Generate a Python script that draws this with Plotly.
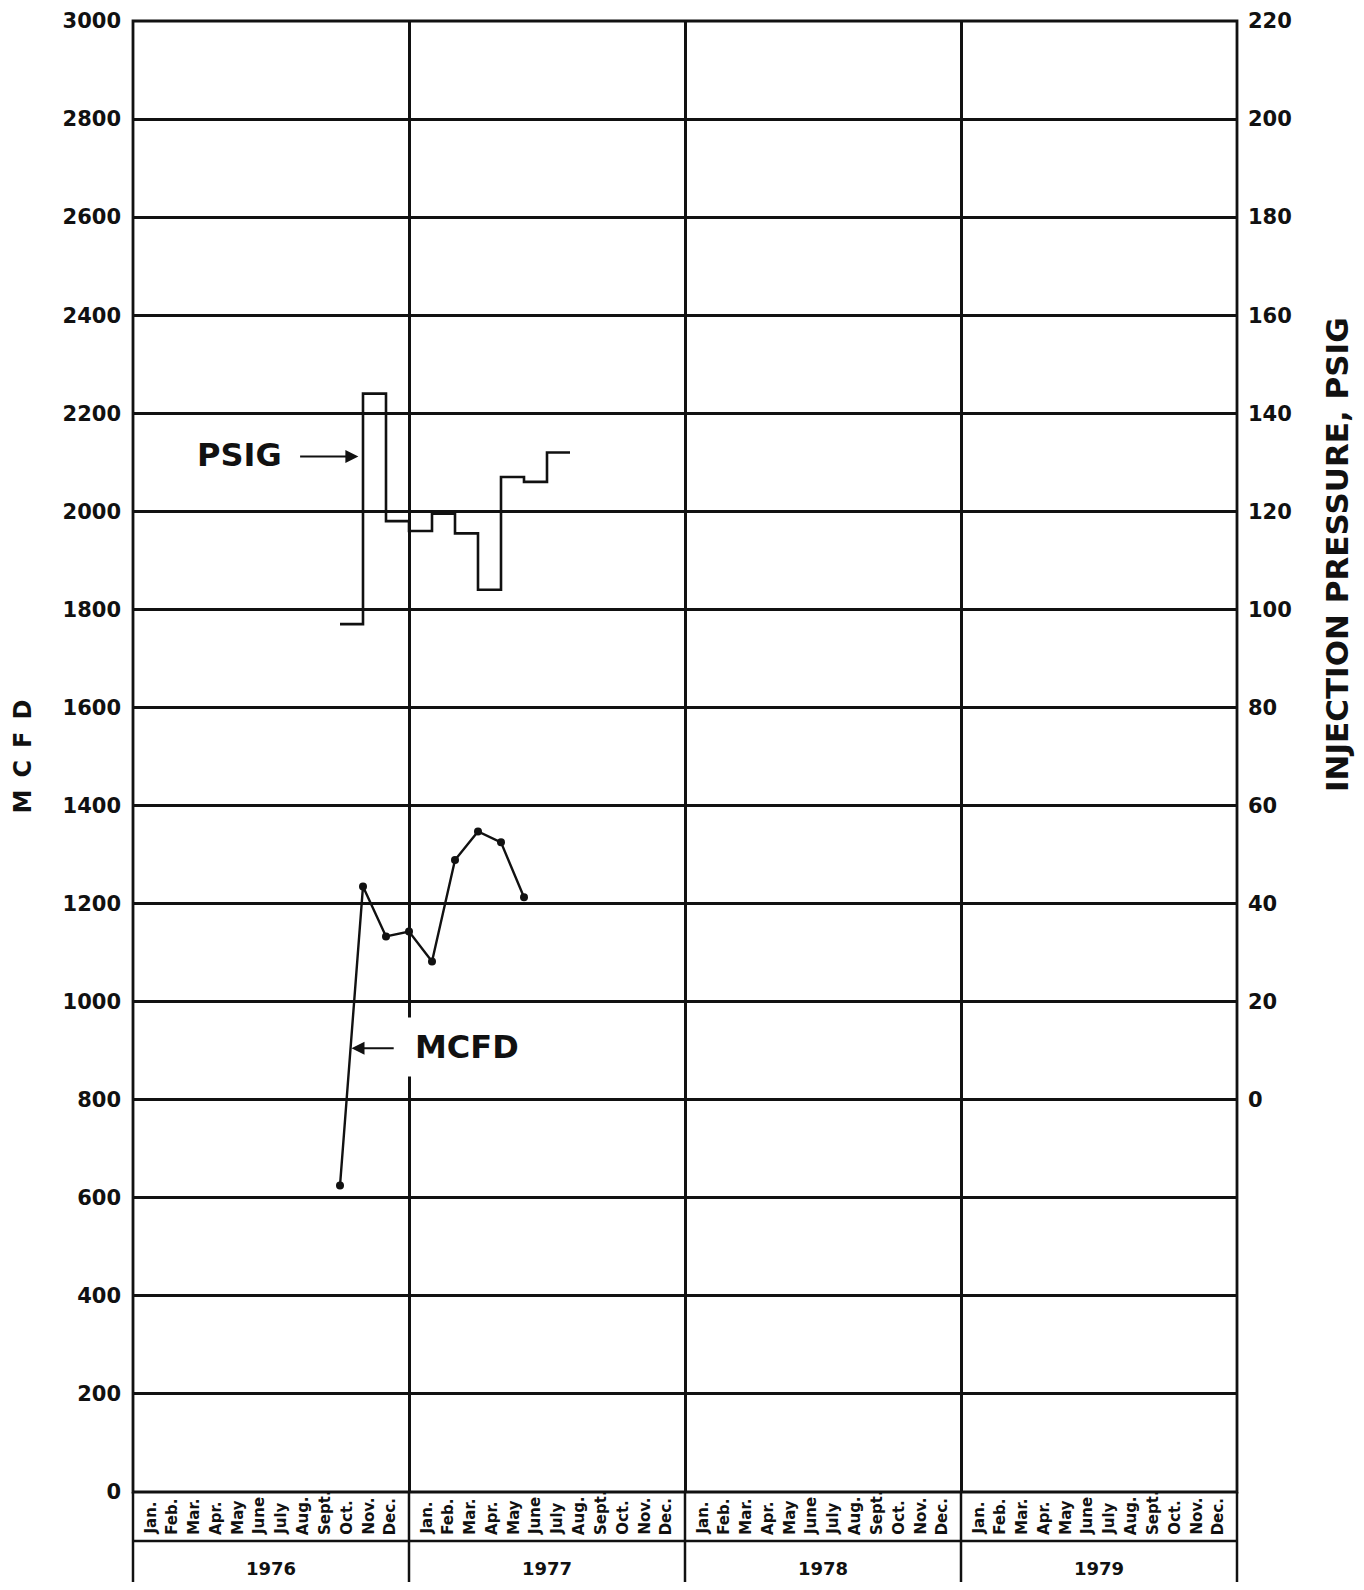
import plotly.graph_objects as go

# months counted from Jan 1976 (0 = start of Jan 1976)
years = ["1976", "1977", "1978", "1979"]
month_labels = ["Jan.", "Feb.", "Mar.", "Apr.", "May", "June",
                "July", "Aug.", "Sept.", "Oct.", "Nov.", "Dec."]

# MCFD readings (plotted at month starts)
mcfd_months = [9, 10, 11, 12, 13, 14, 15, 16, 17]
mcfd_values = [625, 1235, 1133, 1143, 1082, 1289, 1347, 1325, 1213]

# injection pressure, monthly step (Oct 1976 - July 1977), psig
psig_months = [9, 10, 11, 12, 13, 14, 15, 16, 17, 18, 19]
psig_values = [97, 144, 118, 116, 119.5, 115.5, 104, 127, 126, 132, 132]

mcfd_ticks = list(range(0, 3001, 200))
psig_ticks = list(range(0, 221, 20))

# page body adds 8px around the figure
W, H = 1348, 1574
L, R, T, B = 125, 119, 13, 90
pw = W - L - R
ph = H - T - B

def py(px):
    return px / ph

def pxx(px):
    return px / pw

FONT = "DejaVu Sans"
BLACK = "#111111"

fig = go.Figure()

fig.add_trace(go.Scatter(
    x=psig_months, y=psig_values, yaxis="y2", mode="lines",
    line=dict(color=BLACK, width=2.6, shape="hv"), showlegend=False))

fig.add_trace(go.Scatter(
    x=mcfd_months, y=mcfd_values, mode="lines+markers",
    line=dict(color=BLACK, width=2.4),
    marker=dict(color=BLACK, size=8), showlegend=False))

n_months = 12 * len(years)

fig.update_layout(
    width=W, height=H,
    margin=dict(l=L, r=R, t=T, b=B, autoexpand=False),
    paper_bgcolor="white", plot_bgcolor="white",
    font=dict(family=FONT, color=BLACK),
    xaxis=dict(range=[0, n_months], tickvals=list(range(0, n_months + 1, 12)),
               showticklabels=False, showgrid=True, gridcolor=BLACK, gridwidth=2.5,
               zeroline=False, ticks="", automargin=False),
    yaxis=dict(range=[0, 3000], tickvals=mcfd_ticks, showgrid=True,
               gridcolor=BLACK, gridwidth=2.5, zeroline=False, ticks="",
               ticklabelstandoff=11, ticklabeloverflow="allow", automargin=False,
               tickfont=dict(family=FONT, size=21, weight="bold", color=BLACK)),
    yaxis2=dict(range=[-80, 220], tickvals=psig_ticks, overlaying="y",
                side="right", showgrid=False, zeroline=False, ticks="",
                ticklabelstandoff=10, ticklabeloverflow="allow", automargin=False,
                tickfont=dict(family=FONT, size=21, weight="bold", color=BLACK)),
)

# frame of plot and the month / year table below it
row1 = -py(49)   # bottom of month row
row2 = -py(95)   # bottom of year row
shapes = [dict(type="rect", xref="paper", yref="paper", x0=0, x1=1, y0=0, y1=1,
               line=dict(color=BLACK, width=2.8))]
for k in range(len(years) + 1):
    xp = k / len(years)
    shapes.append(dict(type="line", xref="paper", yref="paper", x0=xp, x1=xp,
                       y0=row2, y1=0, line=dict(color=BLACK, width=2.5)))
for yy in (row1, row2):
    shapes.append(dict(type="line", xref="paper", yref="paper", x0=0, x1=1,
                       y0=yy, y1=yy, line=dict(color=BLACK, width=2.5)))
fig.update_layout(shapes=shapes)

ann = []
for k, yr in enumerate(years):
    for i, m in enumerate(month_labels):
        ann.append(dict(x=12 * k + 0.74 + i * 0.948, y=row1 + py(4), xref="x",
                        yref="paper", text=m, showarrow=False, textangle=-90,
                        xanchor="center", yanchor="bottom",
                        font=dict(family=FONT, size=15, weight="bold")))
    ann.append(dict(x=12 * k + 6, y=-py(76), xref="x", yref="paper",
                    xanchor="center", yanchor="middle",
                    text=yr, showarrow=False,
                    font=dict(family=FONT, size=18, weight="bold")))

# axis titles
ann.append(dict(x=-pxx(111), y=0.5, xref="paper", yref="paper",
                xanchor="center", yanchor="middle",
                text="M\u2002C\u2002F\u2002D", showarrow=False, textangle=-90,
                font=dict(family=FONT, size=24, weight="bold")))
ann.append(dict(x=1 + pxx(100), y=0.637, xref="paper", yref="paper",
                xanchor="center", yanchor="middle",
                text="INJECTION PRESSURE, PSIG", showarrow=False, textangle=-90,
                font=dict(family=FONT, size=31, weight="bold")))

# series labels with arrows
ann.append(dict(x=4.65, y=2114, xref="x", yref="y", text="PSIG", showarrow=False,
                font=dict(family=FONT, size=32, weight="bold")))
ann.append(dict(x=9.8, y=2112, ax=7.2, ay=2112, xref="x", yref="y",
                axref="x", ayref="y", text="", showarrow=True, arrowhead=2,
                arrowsize=1.3, arrowwidth=2, arrowcolor=BLACK))
ann.append(dict(x=11.8, y=908, xref="x", yref="y", text="MCFD", showarrow=False,
                xanchor="left", bgcolor="white", borderpad=10,
                font=dict(family=FONT, size=32, weight="bold")))
ann.append(dict(x=9.5, y=905, ax=11.4, ay=905, xref="x", yref="y",
                axref="x", ayref="y", text="", showarrow=True, arrowhead=2,
                arrowsize=1.3, arrowwidth=2, arrowcolor=BLACK))
fig.update_layout(annotations=ann)

fig.write_html("out.html")
